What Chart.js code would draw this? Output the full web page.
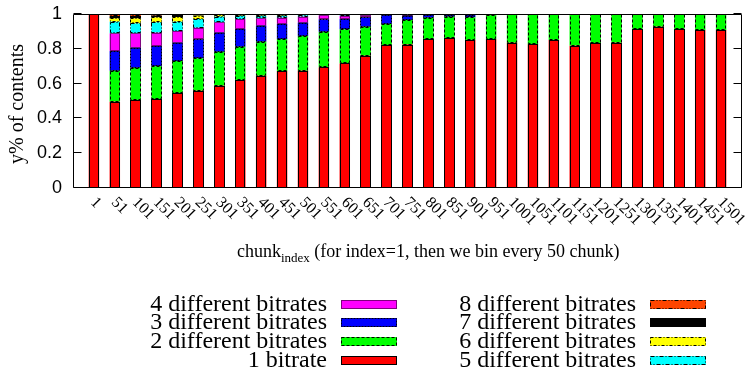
<!DOCTYPE html>
<html>
<head>
<meta charset="utf-8">
<script src="https://cdn.jsdelivr.net/npm/chart.js@4"></script>
<style>
  html, body { margin: 0; padding: 0; background: #fff; }
  #wrap { width: 746px; height: 372px; }
</style>
</head>
<body>
<div id="wrap"><canvas id="chart-bitrates"></canvas></div>
<script>
const chunkLabels = ['1', '51', '101', '151', '201', '251', '301', '351', '401', '451', '501',
    '551', '601', '651', '701', '751', '801', '851', '901', '951', '1001', '1051', '1101',
    '1151', '1201', '1251', '1301', '1351', '1401', '1451', '1501'];
const yTickLabels = ['0', '0.2', '0.4', '0.6', '0.8', '1'];

// share of contents per bin, bottom of the stack first
const oneBitrate = [1, .496, .506, .51, .544, .559, .588, .621, .645, .672, .674, .693, .716, .76,
    .82, .824, .855, .86, .851, .856, .835, .826, .851, .818, .831, .835, .912, .927, .912, .908, .908];
const twoBitrates = [0, .178, .185, .19, .186, .186, .195, .191, .196, .184, .2, .205, .196, .167,
    .123, .142, .124, .125, .13, .138, .165, .174, .149, .182, .169, .165, .088, .073, .088, .092, .092];
const threeBitrates = [0, .113, .115, .116, .105, .109, .11, .102, .092, .087, .076, .071, .059, .054,
    .051, .024, .016, .012, .014, .005, 0, 0, 0, 0, 0, 0, 0, 0, 0, 0, 0];
const fourBitrates = [0, .102, .083, .077, .067, .067, .059, .057, .042, .036, .035, .024, .019, .012,
    .004, .006, .003, .002, .003, .001, 0, 0, 0, 0, 0, 0, 0, 0, 0, 0, 0];
const fiveBitrates = [0, .067, .057, .059, .054, .05, .033, .019, .015, .011, .008, .004, .006, .004,
    .001, .002, .001, .001, .001, 0, 0, 0, 0, 0, 0, 0, 0, 0, 0, 0, 0];
const sixBitrates = [0, .019, .029, .029, .029, .019, .01, .006, .006, .006, .004, .002, .002, .002,
    .001, .001, .001, 0, .001, 0, 0, 0, 0, 0, 0, 0, 0, 0, 0, 0, 0];
const sevenBitrates = [0, .012, .013, .01, .008, .005, .003, .002, .002, .002, .002, .001, .001, .001,
    0, .001, 0, 0, 0, 0, 0, 0, 0, 0, 0, 0, 0, 0, 0, 0, 0];
const eightBitrates = [0, .013, .012, .009, .007, .005, .002, .002, .002, .002, .001, 0, .001, 0,
    0, 0, 0, 0, 0, 0, 0, 0, 0, 0, 0, 0, 0, 0, 0, 0, 0];

const seriesNames = ['1 bitrate', '2 different bitrates', '3 different bitrates', '4 different bitrates',
    '5 different bitrates', '6 different bitrates', '7 different bitrates', '8 different bitrates'];
const seriesValues = [oneBitrate, twoBitrates, threeBitrates, fourBitrates,
    fiveBitrates, sixBitrates, sevenBitrates, eightBitrates];
const seriesColors = ['#ff0000', '#00ff00', '#0000ff', '#ff00ff', '#00ffff', '#ffff00', '#000000', '#ff4500'];
// gnuplot line types used for the box outlines
const seriesDashes = [[], [3, 2], [2, 1], [1, 1], [4, 2, 1, 2], [3, 2, 1, 2], [], [4, 2, 1, 2, 1, 2]];

const serif = '"Liberation Serif", "DejaVu Serif", serif';

const gnuplotLook = {
    id: 'gnuplotLook',
    afterDatasetsDraw(chart){
        // outline each box with its dash pattern
        const {ctx} = chart;
        ctx.save();
        ctx.strokeStyle = '#000';
        ctx.lineWidth = 1;
        chart.data.datasets.forEach((ds, d) => {
            ctx.setLineDash(seriesDashes[d]);
            chart.getDatasetMeta(d).data.forEach(bar => {
                const {x, y, base, width} = bar.getProps(['x', 'y', 'base', 'width'], true);
                if(Math.abs(base - y) < 1) return;
                const left = Math.round(x - width / 2) + 0.5;
                const right = Math.round(x + width / 2) - 0.5;
                ctx.strokeRect(left, Math.round(y) + 0.5, right - left, Math.round(base) - Math.round(y) - 1);
            });
        });
        ctx.restore();
    },
    afterDraw(chart){
        const {ctx, chartArea: area, scales: {x, y}} = chart;
        const l = area.left + 0.5, r = area.right - 0.5, t = area.top + 0.5, b = area.bottom - 0.5;
        ctx.save();
        ctx.setLineDash([]);
        ctx.strokeStyle = '#000';
        ctx.lineWidth = 1;
        ctx.beginPath();
        ctx.moveTo(l, t);
        ctx.lineTo(r, t);
        ctx.lineTo(r, b);
        ctx.lineTo(l, b);
        ctx.closePath();

        ctx.fillStyle = '#000';
        ctx.font = '18px "Liberation Sans", Arial, sans-serif';
        ctx.textAlign = 'right';
        ctx.textBaseline = 'middle';
        y.ticks.forEach((tick, i) => {
            const py = Math.round(y.getPixelForValue(tick.value)) - 0.5;
            ctx.moveTo(l, py);
            ctx.lineTo(l + 8, py);
            ctx.moveTo(r, py);
            ctx.lineTo(r - 8, py);
            ctx.fillText(yTickLabels[i], area.left - 11, py + 1);
        });
        ctx.stroke();

        ctx.font = '16px ' + serif;
        ctx.textAlign = 'left';
        chunkLabels.forEach((label, i) => {
            ctx.save();
            ctx.translate(x.getPixelForValue(i) - 1, area.bottom + 12);
            ctx.rotate(Math.PI / 4);
            ctx.fillText(label, 0, 0);
            ctx.restore();
        });

        // y title
        ctx.save();
        ctx.translate(18, (area.top + area.bottom) / 2 + 3);
        ctx.rotate(-Math.PI / 2);
        ctx.textAlign = 'center';
        ctx.font = '20px ' + serif;
        ctx.fillText('y% of contents', 0, 0);
        ctx.restore();

        // x title with subscript
        ctx.textBaseline = 'alphabetic';
        let tx = 237;
        const base = 257;
        ctx.font = '18px ' + serif;
        ctx.fillText('chunk', tx, base);
        tx += ctx.measureText('chunk').width;
        ctx.font = '13px ' + serif;
        ctx.fillText('index', tx, base + 5);
        tx += ctx.measureText('index').width;
        ctx.font = '18px ' + serif;
        ctx.fillText(' (for index=1, then we bin every 50 chunk)', tx, base);

        // key, two columns of right aligned text followed by a sample
        const columns = [{right: 327, rows: [3, 2, 1, 0]}, {right: 636, rows: [7, 6, 5, 4]}];
        const rowY = [304, 322, 341, 360];
        ctx.font = '24px ' + serif;
        ctx.textAlign = 'right';
        ctx.textBaseline = 'middle';
        ctx.strokeStyle = '#000';
        columns.forEach(col => {
            col.rows.forEach((d, row) => {
                const ds = chart.data.datasets[d];
                ctx.fillStyle = '#000';
                ctx.fillText(ds.label, col.right, rowY[row] + 1);
                ctx.fillStyle = ds.backgroundColor;
                ctx.fillRect(col.right + 14, rowY[row] - 4, 56, 9);
                ctx.setLineDash(seriesDashes[d]);
                ctx.strokeRect(col.right + 14.5, rowY[row] - 3.5, 55, 8);
            });
        });
        ctx.restore();
    }
};

new Chart(document.getElementById('chart-bitrates'), {
    type: 'bar',
    data: {
        datasets: seriesValues.map((values, s) => ({
            label: seriesNames[s],
            data: values.map((v, i) => ({x: i, y: v})),
            backgroundColor: seriesColors[s],
            borderWidth: 0,
            categoryPercentage: 1,
            barPercentage: 0.5
        }))
    },
    options: {
        responsive: true,
        maintainAspectRatio: false,
        animation: false,
        devicePixelRatio: 1,
        layout: {padding: {top: 14, right: 4, left: 0, bottom: 0}},
        plugins: {
            legend: {display: false},
            tooltip: {enabled: false}
        },
        scales: {
            x: {
                type: 'linear',
                stacked: true,
                offset: false,
                min: -1,
                max: 31,
                grid: {display: false},
                border: {display: false},
                ticks: {display: false},
                afterFit: scale => { scale.height = 184; }
            },
            y: {
                stacked: true,
                min: 0,
                max: 1,
                grid: {display: false},
                border: {display: false},
                ticks: {display: false, stepSize: 0.2},
                afterFit: scale => { scale.width = 73; }
            }
        }
    },
    plugins: [gnuplotLook]
});
</script>
</body>
</html>
